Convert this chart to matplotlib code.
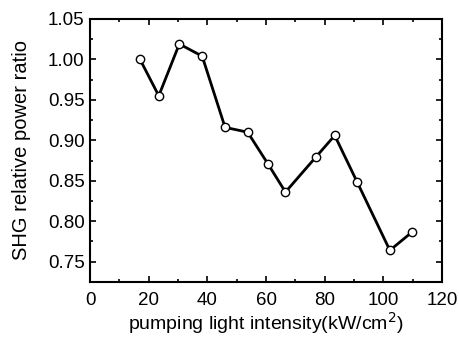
import matplotlib
matplotlib.use("Agg")
import matplotlib.pyplot as plt
from matplotlib.ticker import MultipleLocator

plt.rcParams['font.family'] = ['Liberation Sans', 'DejaVu Sans']

# Data
intensity = [17, 23.4, 30.4, 38.2, 46, 53.7, 60.6, 66.6, 76.9, 83.4, 91.1, 102.2, 109.9]
ratio = [1.000, 0.955, 1.019, 1.004, 0.916, 0.910, 0.871, 0.836, 0.879, 0.906, 0.848, 0.764, 0.787]

fig = plt.figure(figsize=(4.6, 3.38), dpi=100)
ax = fig.add_axes([0.196, 0.166, 0.765, 0.778])

ax.plot(intensity, ratio, color="black", linewidth=2, marker="o", markersize=6,
        markerfacecolor="white", markeredgecolor="black", markeredgewidth=1)

ax.set_xlim(0, 120)
ax.set_ylim(0.725, 1.05)
ax.xaxis.set_major_locator(MultipleLocator(20))
ax.xaxis.set_minor_locator(MultipleLocator(10))
ax.yaxis.set_major_locator(MultipleLocator(0.05))
ax.yaxis.set_minor_locator(MultipleLocator(0.025))
ax.yaxis.set_major_formatter(plt.FormatStrFormatter("%.2f"))
ax.tick_params(which="both", direction="in", top=True, right=True, labelsize=13.5, width=1.2)
ax.tick_params(which="major", length=4)
ax.tick_params(which="minor", length=2)
ax.tick_params(axis="x", which="major", pad=7)
ax.tick_params(axis="y", which="major", pad=4)
for s in ax.spines.values():
    s.set_linewidth(1.5)

ax.set_xlabel("pumping light intensity(kW/cm$^2$)", fontsize=14, labelpad=1)
ax.set_ylabel("SHG relative power ratio", fontsize=14.5, labelpad=12)

fig.savefig("out.png", dpi=100)
